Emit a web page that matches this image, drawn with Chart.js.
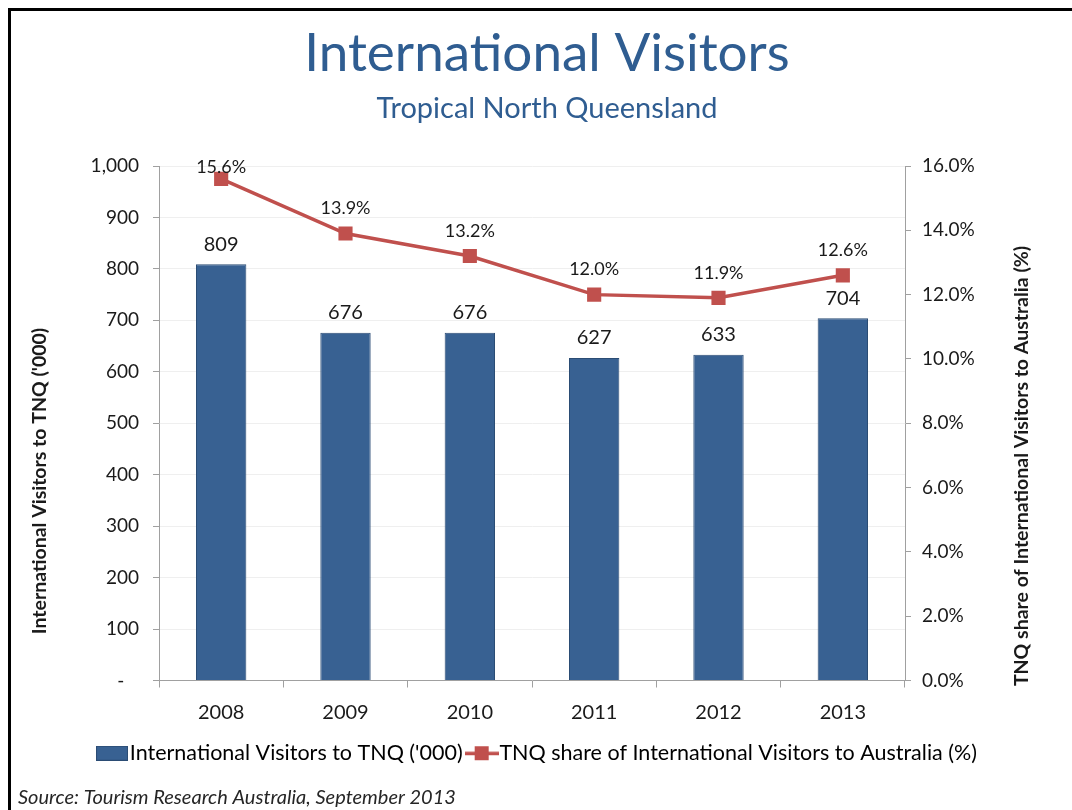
<!DOCTYPE html>
<html>
<head>
<meta charset="utf-8">
<script src="https://cdn.jsdelivr.net/npm/chart.js@4.4.1/dist/chart.umd.min.js"></script>
<style>
  html, body { margin: 0; padding: 0; background: #fff; overflow: hidden; }
  #wrap { position: relative; width: 1072px; height: 810px; overflow: hidden; }
  #frame { position: absolute; left: 8px; top: 8px; width: 1200px; height: 1000px; border: 3px solid #000; box-sizing: border-box; }
  canvas { position: absolute; left: 0; top: 0; }
</style>
</head>
<body>
<div id="wrap">
  <div id="frame"></div>
  <canvas id="chart" width="1072" height="810"></canvas>
</div>
<script>
/* ─── International Visitors – Tropical North Queensland ─── */

const YEARS    = ['2008', '2009', '2010', '2011', '2012', '2013'];
const VISITORS = [809, 676, 676, 627, 633, 704];          // '000
const SHARE    = [15.6, 13.9, 13.2, 12.0, 11.9, 12.6];    // %

const TITLE    = 'International Visitors';
const SUBTITLE = 'Tropical North Queensland';
const SOURCE   = 'Source: Tourism Research Australia, September 2013';
const BAR_NAME  = "International Visitors to TNQ ('000)";
const LINE_NAME = 'TNQ share of International Visitors to Australia (%)';

const BLUE  = '#386192';
const BLUE_EDGE = '#2B4C74';
const RED   = '#C0504D';
const TITLE_BLUE = '#2F5D91';
const AXIS  = '#A0A0A0';
const FONT  = 'Lato';

Chart.defaults.font.family = FONT;
Chart.defaults.color = '#1a1a1a';

// little pictures for the legend keys
function barKey() {
  const c = document.createElement('canvas');
  c.width = 32; c.height = 15;
  const g = c.getContext('2d');
  g.fillStyle = BLUE_EDGE; g.fillRect(0, 0, 32, 15);
  g.fillStyle = BLUE; g.fillRect(1, 1, 30, 13);
  return c;
}
function lineKey() {
  const c = document.createElement('canvas');
  c.width = 34; c.height = 16;
  const g = c.getContext('2d');
  g.fillStyle = RED;
  g.fillRect(0, 6.5, 34, 3.5);
  g.fillRect(10, 1, 14, 14);
  return c;
}

const chromePlugin = {
  id: 'chrome',
  afterDraw(chart) {
    const ctx = chart.ctx;
    ctx.save();
    ctx.textAlign = 'center';
    ctx.textBaseline = 'alphabetic';
    ctx.fillStyle = TITLE_BLUE;
    ctx.font = `53px ${FONT}`;
    ctx.fillText(TITLE, 547, 71);
    ctx.font = `29px ${FONT}`;
    ctx.fillText(SUBTITLE, 547, 118);

    ctx.fillStyle = '#1a1a1a';
    ctx.font = `bold 19.5px ${FONT}`;
    ctx.save();
    ctx.translate(40, 481);
    ctx.rotate(-Math.PI / 2);
    ctx.textBaseline = 'middle';
    ctx.fillText(BAR_NAME, 0, 0);
    ctx.restore();
    ctx.save();
    ctx.translate(1022, 466);
    ctx.rotate(-Math.PI / 2);
    ctx.textBaseline = 'middle';
    ctx.fillText(LINE_NAME, 0, 0);
    ctx.restore();

    ctx.textAlign = 'left';
    ctx.fillStyle = '#262626';
    ctx.font = `italic 20px ${FONT}`;
    ctx.fillText(SOURCE, 18, 804);
    ctx.restore();
  }
};

const valueLabels = {
  id: 'valueLabels',
  afterDatasetsDraw(chart) {
    const ctx = chart.ctx;
    const top = chart.chartArea.top;
    ctx.save();
    ctx.textAlign = 'center';
    ctx.textBaseline = 'middle';
    ctx.fillStyle = '#1a1a1a';

    ctx.font = `20px ${FONT}`;
    chart.getDatasetMeta(0).data.forEach((bar, i) => {
      ctx.fillText(String(VISITORS[i]), bar.x, bar.y - 20);
    });

    ctx.font = `18px ${FONT}`;
    chart.getDatasetMeta(1).data.forEach((pt, i) => {
      const y = Math.max(pt.y - 25, top + 1);
      ctx.fillText(SHARE[i].toFixed(1) + '%', pt.x, y);
    });
    ctx.restore();
  }
};

new Chart(document.getElementById('chart'), {
  data: {
    labels: YEARS,
    datasets: [
      {
        type: 'bar',
        label: BAR_NAME,
        data: VISITORS,
        yAxisID: 'y',
        backgroundColor: BLUE,
        borderColor: BLUE_EDGE,
        borderWidth: 1,
        categoryPercentage: 1,
        barPercentage: 0.405,
        order: 2
      },
      {
        type: 'line',
        label: LINE_NAME,
        data: SHARE,
        yAxisID: 'y1',
        borderColor: RED,
        backgroundColor: RED,
        borderWidth: 3.5,
        pointStyle: 'rect',
        pointRadius: 10,
        pointBorderWidth: 0,
        tension: 0,
        order: 1
      }
    ]
  },
  options: {
    responsive: false,
    animation: false,
    layout: { padding: { left: 30, right: 20, top: 166, bottom: 36 } },
    scales: {
      x: {
        grid: { offset: true, drawOnChartArea: false, color: AXIS, tickLength: 7 },
        border: { color: AXIS },
        ticks: { font: { size: 20 }, padding: 13, color: '#1a1a1a' },
        afterFit(s) { s.height = 50; }
      },
      y: {
        position: 'left',
        min: 0, max: 1000,
        ticks: {
          stepSize: 100,
          padding: 14,
          font: { size: 19 },
          color: '#1a1a1a',
          callback: v => v === 0 ? '-   ' : v.toLocaleString('en-US')
        },
        grid: { color: '#EFEFEF', tickColor: AXIS, tickLength: 6 },
        border: { color: AXIS },
        afterFit(s) { s.width = 129; }
      },
      y1: {
        position: 'right',
        min: 0, max: 16,
        ticks: {
          stepSize: 2,
          padding: 11,
          font: { size: 19 },
          color: '#1a1a1a',
          callback: v => v.toFixed(1) + '%'
        },
        grid: { drawOnChartArea: false, tickColor: AXIS, tickLength: 6 },
        border: { color: AXIS },
        afterFit(s) { s.width = 147; }
      }
    },
    plugins: {
      title: { display: false },
      tooltip: { enabled: false },
      legend: {
        position: 'bottom',
        labels: {
          usePointStyle: true,
          pointStyleWidth: 14,
          padding: 12,
          font: { size: 21.5 },
          color: '#1a1a1a',
          generateLabels: () => [
            { text: BAR_NAME, pointStyle: barKey(), fillStyle: BLUE, strokeStyle: BLUE, lineWidth: 0, datasetIndex: 0 },
            { text: LINE_NAME, pointStyle: lineKey(), fillStyle: RED, strokeStyle: RED, lineWidth: 0, datasetIndex: 1 }
          ]
        }
      }
    }
  },
  plugins: [valueLabels, chromePlugin]
});
</script>
</body>
</html>
